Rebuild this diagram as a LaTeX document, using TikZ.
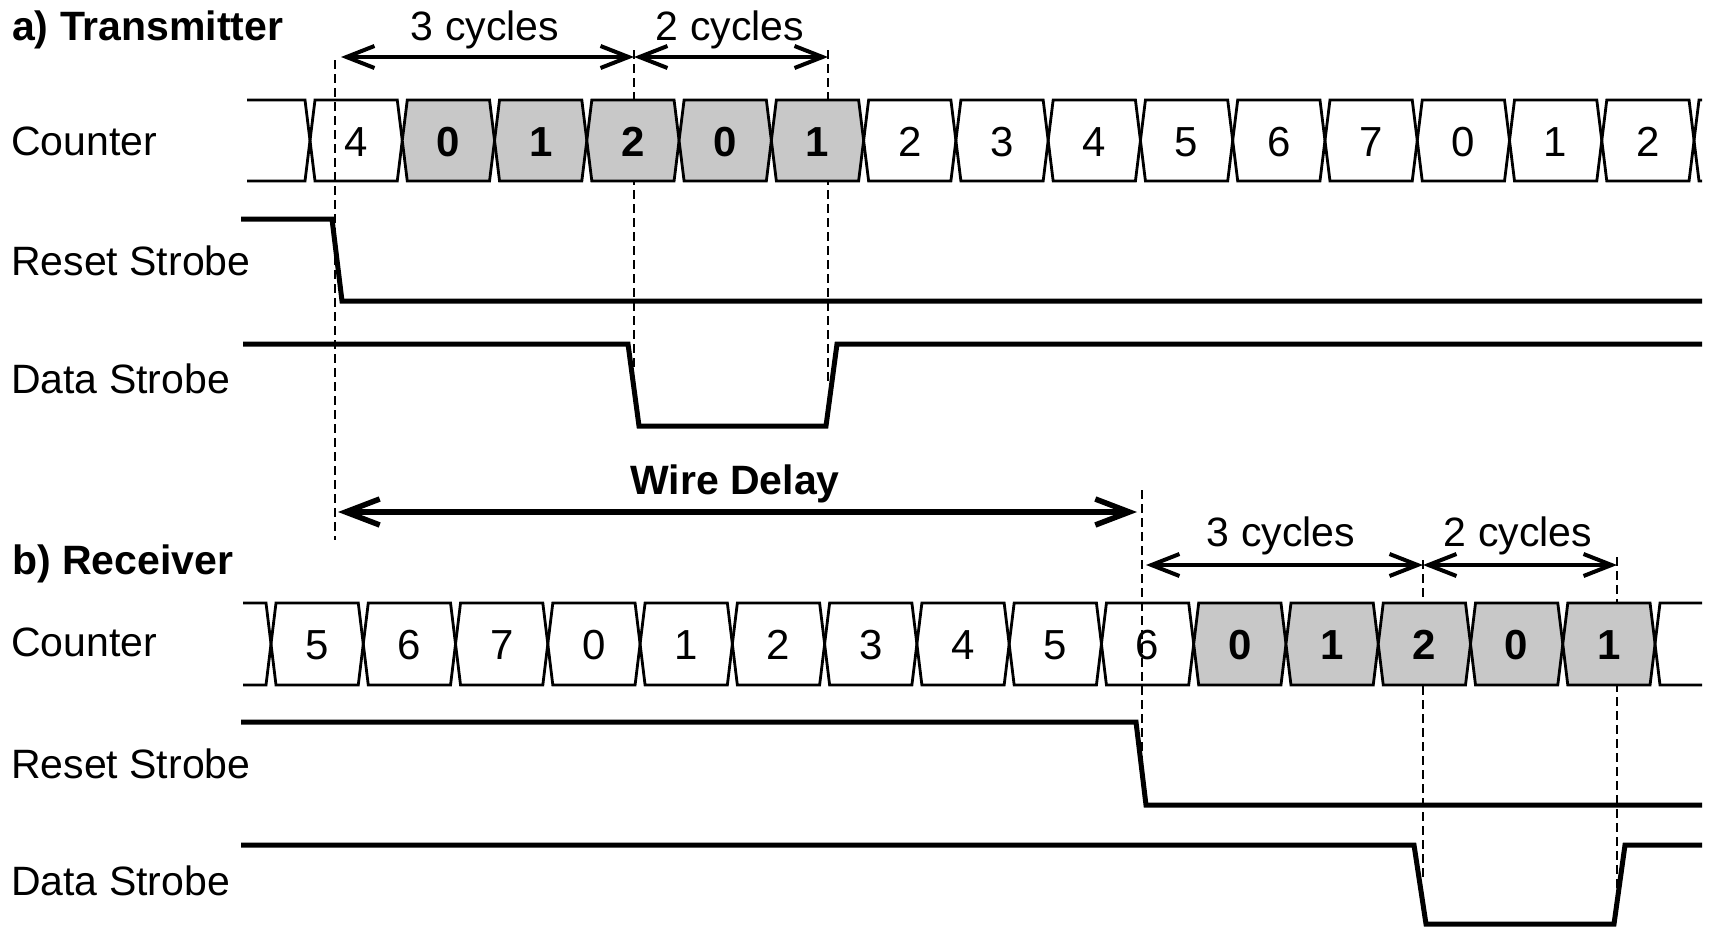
\documentclass[tikz,border=0pt]{standalone}
\usepackage{fontspec}
\setmainfont{Liberation Sans}
\usetikzlibrary{arrows.meta}
\definecolor{cellgray}{RGB}{200,200,200}

\begin{document}
\begin{tikzpicture}[x=1pt,y=-1pt,
  lbl/.style={anchor=base west, inner sep=0pt, font=\fontsize{41}{48}\selectfont},
  ttl/.style={anchor=base west, inner sep=0pt, font=\fontsize{41}{48}\selectfont\bfseries},
  cyc/.style={anchor=base, inner sep=0pt, font=\fontsize{41}{48}\selectfont},
  plaindigit/.style={anchor=base, inner sep=0pt, font=\fontsize{42}{48}\selectfont},
  hotdigit/.style={anchor=base, inner sep=0pt, font=\fontsize{42}{48}\selectfont\bfseries},
  bus/.style={line width=2.8pt},
  wave/.style={line width=5pt},
  guide/.style={line width=2.6pt, dash pattern=on 9pt off 5pt},
  span/.style={line width=4pt,
    {Straight Barb[length=28pt,width=22pt]}-{Straight Barb[length=28pt,width=22pt]}},
  delay/.style={line width=5.5pt,
    {Straight Barb[length=34pt,width=26pt]}-{Straight Barb[length=34pt,width=26pt]}}
]
\useasboundingbox (0,0) rectangle (1719,929);

% ---------- guide lines (drawn first, hidden behind shaded cells) ----------
\coordinate (g1t) at (335,60);   \coordinate (g1b) at (335,540);
\coordinate (g2t) at (634,50);   \coordinate (g2b) at (634,372);
\coordinate (g3t) at (828,50);   \coordinate (g3b) at (828,382);
\coordinate (g4t) at (1142,490); \coordinate (g4b) at (1142,758);
\coordinate (g5t) at (1423,560); \coordinate (g5b) at (1423,880);
\coordinate (g6t) at (1617,557); \coordinate (g6b) at (1617,890);
\foreach \g in {1,...,6} \draw[guide] (g\g t) -- (g\g b);

% ---------- a) Transmitter ----------
\node[ttl] (ttitle) at (12,40) {a) Transmitter};
\node[lbl] (tcnt) at (11,155) {Counter};
\node[lbl] (trst) at (11,275) {Reset Strobe};
\node[lbl] (tdat) at (11,393) {Data Strobe};

% counter bus
\draw[bus] (247,100) -- (305,100) -- (310,140.5) -- (305,181) -- (247,181);
\foreach \v/\h [count=\k from 0] in {4/0,0/1,1/1,2/1,0/1,1/1,2/0,3/0,4/0,5/0,6/0,7/0,0/0,1/0,2/0} {
  \pgfmathsetmacro\xa{310+\k*92.27}
  \pgfmathsetmacro\xb{\xa+92.27}
  \ifnum\h=1
    \filldraw[bus, fill=cellgray] (\xa+5,100) -- (\xb-5,100) -- (\xb,140.5) -- (\xb-5,181)
      -- (\xa+5,181) -- (\xa,140.5) -- cycle;
    \node[hotdigit] (tc\k) at ({(\xa+\xb)/2},156) {\v};
  \else
    \draw[bus] (\xa+5,100) -- (\xb-5,100) -- (\xb,140.5) -- (\xb-5,181)
      -- (\xa+5,181) -- (\xa,140.5) -- cycle;
    \node[plaindigit] (tc\k) at ({(\xa+\xb)/2},156) {\v};
  \fi
}
\draw[bus] (1702,100) -- (1699,100) -- (1694,140.5) -- (1699,181) -- (1702,181);

% strobes
\draw[wave] (241,219) -- (332,219) -- (342,301) -- (1702,301);
\draw[wave] (243,344) -- (628,344) -- (639,426) -- (826,426) -- (837,344) -- (1702,344);

% cycle spans
\coordinate (ts0) at (341,57);
\coordinate (ts1) at (634,57);
\coordinate (ts2) at (828,57);
\draw[span] (ts0) -- (ts1);
\draw[span] (ts1) -- (ts2);
\node[cyc] (tc3) at (485,40) {3 cycles};
\node[cyc] (tc2) at (730,40) {2 cycles};

% ---------- wire delay ----------
\coordinate (wd0) at (338,512);
\coordinate (wd1) at (1137,512);
\draw[delay] (wd0) -- (wd1);
\node[anchor=base, inner sep=0pt, font=\fontsize{41}{48}\selectfont\bfseries] (wdl) at (735,494) {Wire Delay};

% ---------- b) Receiver ----------
\node[ttl] (rtitle) at (12,574) {b) Receiver};
\node[lbl] (rcnt) at (11,656) {Counter};
\node[lbl] (rrst) at (11,778) {Reset Strobe};
\node[lbl] (rdat) at (11,895) {Data Strobe};

% counter bus
\draw[bus] (243,603) -- (266,603) -- (271,644) -- (266,685) -- (243,685);
\foreach \v/\h [count=\k from 0] in {5/0,6/0,7/0,0/0,1/0,2/0,3/0,4/0,5/0,6/0,0/1,1/1,2/1,0/1,1/1} {
  \pgfmathsetmacro\xa{271+\k*92.27}
  \pgfmathsetmacro\xb{\xa+92.27}
  \ifnum\h=1
    \filldraw[bus, fill=cellgray] (\xa+5,603) -- (\xb-5,603) -- (\xb,644) -- (\xb-5,685)
      -- (\xa+5,685) -- (\xa,644) -- cycle;
    \node[hotdigit] (rc\k) at ({(\xa+\xb)/2},659) {\v};
  \else
    \draw[bus] (\xa+5,603) -- (\xb-5,603) -- (\xb,644) -- (\xb-5,685)
      -- (\xa+5,685) -- (\xa,644) -- cycle;
    \node[plaindigit] (rc\k) at ({(\xa+\xb)/2},659) {\v};
  \fi
}
\draw[bus] (1702,603) -- (1660,603) -- (1655,644) -- (1660,685) -- (1702,685);

% strobes
\draw[wave] (241,722) -- (1136,722) -- (1146,805) -- (1702,805);
\draw[wave] (241,845) -- (1414,845) -- (1426,924) -- (1614,924) -- (1625,845) -- (1702,845);

% cycle spans
\coordinate (rs0) at (1146,565);
\coordinate (rs1) at (1423,565);
\coordinate (rs2) at (1617,565);
\draw[span] (rs0) -- (rs1);
\draw[span] (rs1) -- (rs2);
\node[cyc] (rc3) at (1281,546) {3 cycles};
\node[cyc] (rc2) at (1518,546) {2 cycles};
\end{tikzpicture}
\end{document}
